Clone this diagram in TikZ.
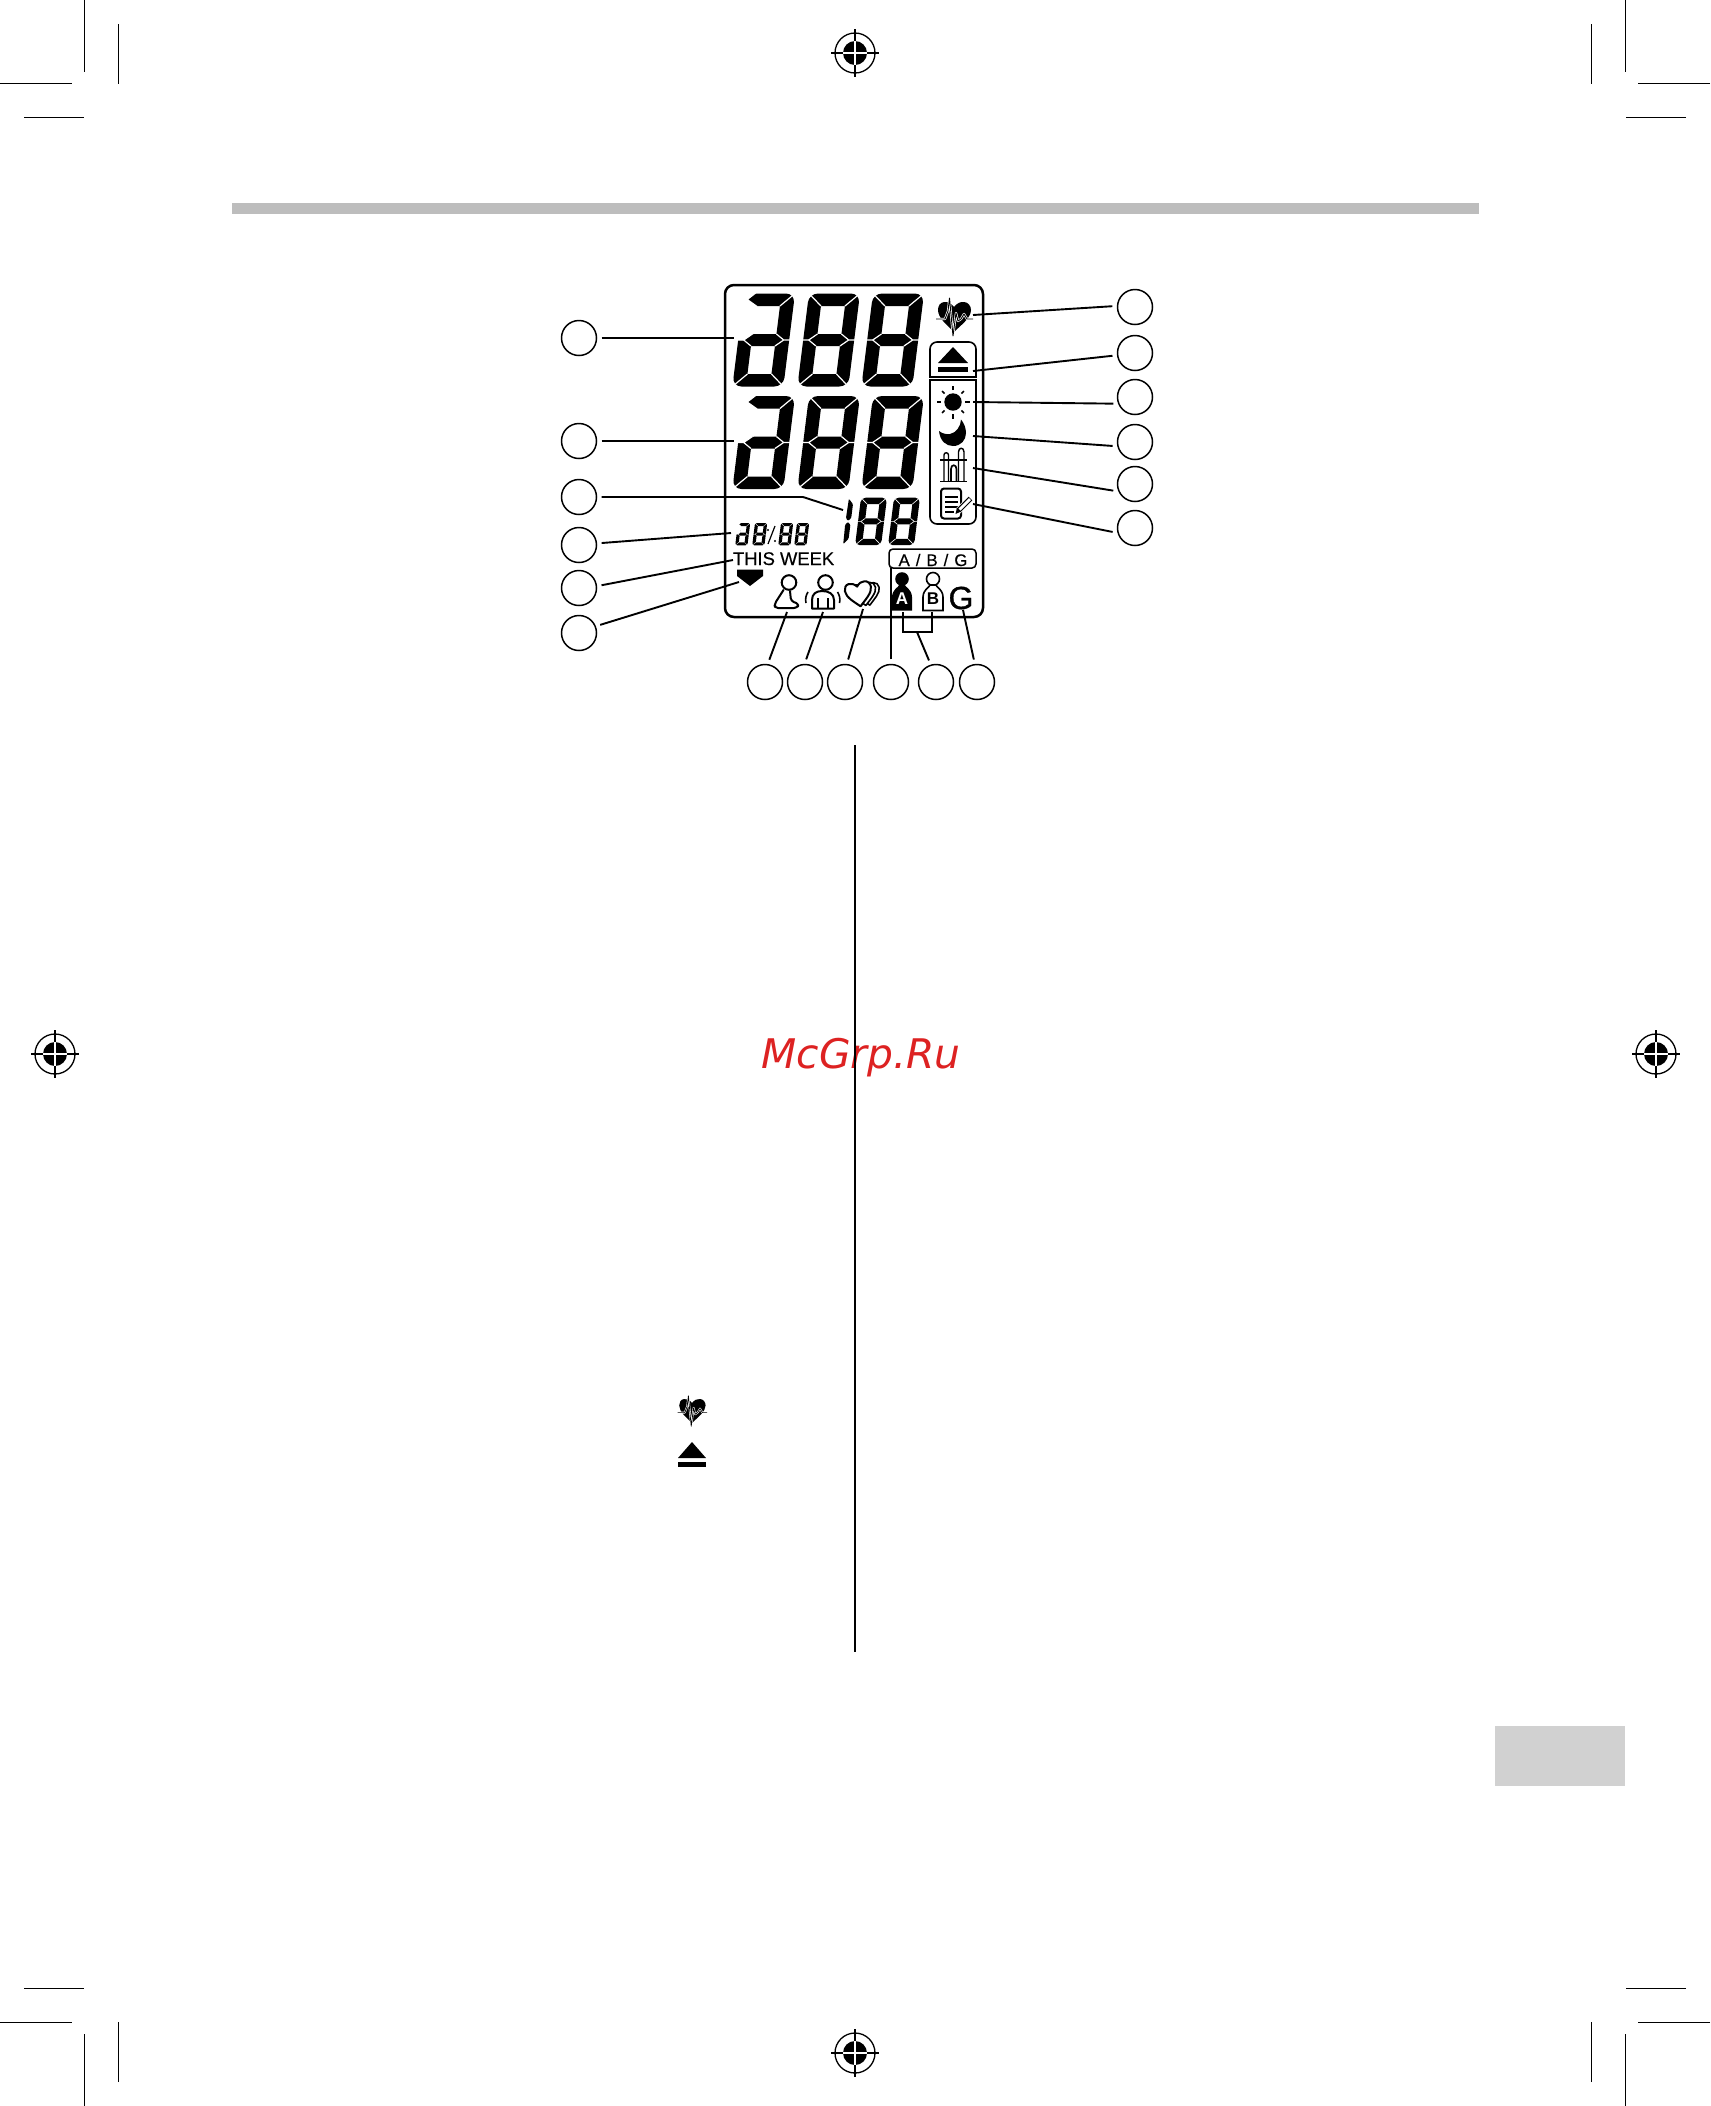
\documentclass[tikz,border=0pt]{standalone}
\usepackage{fontspec}
\setmainfont{Liberation Sans}
\newfontfamily\wmfont{DejaVu Sans}
\newfontfamily\medfont[FakeBold=0.35]{Liberation Sans}
\newfontfamily\gfont[FakeBold=1]{Liberation Sans}
\definecolor{wmred}{RGB}{221,34,34}
\tikzset{
  leader/.style={draw=black,line width=0.95pt},
  numcircle/.style={circle,draw=black,line width=0.75pt,minimum size=17.5pt,inner sep=0pt,outer sep=2.6pt,fill=white},
  crop/.style={draw=black,line width=0.55pt},
  lcd/.style={draw=black,line width=1.25pt,rounded corners=4.5pt},
  panel/.style={draw=black,line width=0.8pt,line cap=rect},
  seg/.style={fill=black,draw=none},
  ico/.style={draw=black,line width=1pt,line join=round,line cap=round},
  thinico/.style={draw=black,line width=0.7pt,line join=round},
  lab/.style={inner sep=0pt,outer sep=0pt}
}
% #1 x, #2 y, #3 scale, #4 mode: 0 all, 1 no upper-left, 2 only left pair
\newcommand{\segdigit}[4]{%
\begin{scope}[shift={(#1,#2)},x={(#3*0.5pt,0pt)},y={(-0.125*#3*0.5pt,-#3*0.5pt)}]
\ifnum#4<2\relax
  \fill[black,even odd rule] [rounded corners=#3*4.5pt] (0,0)--(51,0)--(51,93)--(0,93)--cycle
     [sharp corners] (13.5,12.5)--(37.5,12.5)--(37.5,40.5)--(13.5,40.5)--cycle
     (13.5,52.5)--(37.5,52.5)--(37.5,80.5)--(13.5,80.5)--cycle;
  \ifnum#4=1\relax
    \fill[white] (-4,-4)--(12,-4)--(12,0)--(5,6)--(15,12.5)--(15,40.5)--(13.5,40.5)--(5.5,46.5)--(-4,46.5)--cycle;
  \fi
  \draw[white,line width=#3*0.6pt]
    (51,0)--(37.5,12.5) (0,93)--(13.5,80.5) (51,93)--(37.5,80.5)
    (13.5,40.5)--(5.5,46.5)--(13.5,52.5) (37.5,40.5)--(45.5,46.5)--(37.5,52.5)
    (-1,46.5)--(5.5,46.5) (45.5,46.5)--(52,46.5);
  \ifnum#4=0\relax
    \draw[white,line width=#3*0.6pt] (0,0)--(13.5,12.5);
  \fi
\else
  \fill[seg,rounded corners=#3*1pt] (2,2)--(11.3,12.7)--(11.3,40)--(5.5,45.5)--(1,40)--cycle;
  \fill[seg,rounded corners=#3*1pt] (1,53)--(5.5,47.5)--(11.3,53)--(11.3,80.3)--(2,91)--cycle;
\fi
\end{scope}}
\newcommand{\heartoutline}{(0,-10) .. controls (-3,-14) and (-7,-15.5) .. (-10,-15) .. controls (-14,-14.5) and (-16,-11) .. (-16,-7) .. controls (-16,1) and (-7,8) .. (0,15) .. controls (7,8) and (17,1) .. (17,-7) .. controls (17,-11) and (14,-15) .. (10,-15) .. controls (7,-15.5) and (3,-14) .. (0,-10) -- cycle}
\newcommand{\heartico}[3]{%
\begin{scope}[shift={(#1,#2)},scale=#3]
  \fill[black] \heartoutline;
  \draw[white,line width=#3*1.15pt,line join=round] (-18,2)--(-9,2)--(-6,-6)--(-4.5,-19)--(-1,19)--(2,-4)--(4,4)--(7,2)--(10,-3)--(13,2)--(19,2);
  \draw[black,line width=#3*0.45pt,line join=round] (-18,2)--(-9,2)--(-6,-6)--(-4.5,-19)--(-1,19)--(2,-4)--(4,4)--(7,2)--(10,-3)--(13,2)--(19,2);
\end{scope}}
\newcommand{\regmark}[2]{%
\begin{scope}[shift={(#1,#2)}]
  \draw[black,line width=0.65pt] (0,0) circle (20);
  \fill[black] (0,0) circle (12);
  \draw[black,line width=0.65pt] (-24,0)--(-12,0) (12,0)--(24,0) (0,-24)--(0,-12) (0,12)--(0,24);
  \draw[white,line width=0.65pt] (-12,0)--(12,0) (0,-12)--(0,12);
\end{scope}}
\newcommand{\pawn}{(-3,585)--(-4,586.5) .. controls (-8,590) and (-10,593) .. (-10,597)--(-10,610.5)--(10,610.5)--(10,597) .. controls (10,593) and (8,590) .. (4,586.5)--(3,585)--cycle}
\begin{document}
\begin{tikzpicture}[x=0.5pt,y=-0.5pt]
\useasboundingbox (0,0) rectangle (1710,2106);
\fill[white] (0,0) rectangle (1710,2106);
% crop marks
\draw[crop] (84.5,0)--(84.5,72) (118.5,24)--(118.5,84) (0,83.5)--(72,83.5) (24,117.5)--(84,117.5);
\draw[crop] (1625.5,0)--(1625.5,72) (1591.5,24)--(1591.5,84) (1710,83.5)--(1638,83.5) (1686,117.5)--(1626,117.5);
\draw[crop] (84.5,2106)--(84.5,2034) (118.5,2082)--(118.5,2022) (0,2022.5)--(72,2022.5) (24,1988.5)--(84,1988.5);
\draw[crop] (1625.5,2106)--(1625.5,2034) (1591.5,2082)--(1591.5,2022) (1710,2022.5)--(1638,2022.5) (1686,1988.5)--(1626,1988.5);
\regmark{855}{53}\regmark{55}{1054}\regmark{1656}{1054}\regmark{855}{2053}
% page furniture
\fill[black!26] (232,203) rectangle (1479,214);
\fill[black!18] (1495,1726) rectangle (1625,1786);
\node[lab,text=wmred,anchor=base] (wm) at (861,1068) {\wmfont\itshape\fontsize{20.4}{20}\selectfont McGrp.Ru};
\draw[black,line width=1.2pt] (855,745)--(855,1652);
\heartico{692}{1411}{0.8}
\fill[black] (692,1442)--(706,1458)--(678,1458)--cycle;
\fill[black] (678,1462) rectangle (706,1467);
% LCD frame
\draw[lcd] (725,285) rectangle (983,617);
% digits
\segdigit{744}{293.5}{1}{1}\segdigit{809}{293.5}{1}{0}\segdigit{873}{293.5}{1}{0}
\segdigit{744}{396}{1}{1}\segdigit{809}{396}{1}{0}\segdigit{873}{396}{1}{0}
\segdigit{848}{497.7}{0.51}{2}\segdigit{861}{497.7}{0.51}{0}\segdigit{894}{497.7}{0.51}{0}
\segdigit{738}{523}{0.24}{1}\segdigit{755}{523}{0.24}{0}\segdigit{781}{523}{0.24}{0}\segdigit{797}{523}{0.24}{0}
\draw[black,line width=0.6pt] (775,526)--(768,544);
\fill[black] (768,530) circle (1.2) (775,541) circle (1.2);
\node[lab,anchor=base west,font=\fontsize{9.2}{9}\selectfont\medfont] (week) at (733,565) {THIS WEEK};
% heart and eject
\heartico{954}{317}{1}
\draw[panel,rounded corners=3.5pt] (930,377)--(930,342)--(976,342)--(976,377);
\draw[panel] (930,377)--(976,377);
\fill[black] (953,347)--(968,363)--(938,363)--cycle;
\fill[black] (938,367) rectangle (968,372);
% lower group
\draw[panel] (930,380)--(976,380);
\draw[panel,rounded corners=3.5pt] (930,380)--(930,524)--(976,524)--(976,380);
\fill[black] (953,402) circle (8.7);
\begin{scope}[shift={(953,402)}]
\foreach \a in {0,90,180,270} \draw[black,line width=0.75pt] (\a:12)--(\a:16.5);
\foreach \a in {45,135,225,315} \draw[black,line width=0.75pt] (\a:12)--(\a:15.5);
\end{scope}
\fill[black] (939,431) .. controls (940,441) and (946,446) .. (953,446) .. controls (961,446) and (966,440) .. (966,433) .. controls (966,428) and (964,423) .. (961,419.5) .. controls (961,426) and (956,433) .. (950,434) .. controls (946,434.5) and (942,433.5) .. (939,431) -- cycle;
\draw[black,line width=0.95pt] (940,460)--(967,460) (940,481.5)--(967,481.5);
\draw[thinico] (944,481)--(944,455) .. controls (944,452) and (948.5,452) .. (948.5,455)--(948.5,481);
\draw[black,line width=0.85pt] (951,481)--(951,469) .. controls (951,464) and (956.5,464) .. (956.5,469)--(956.5,481);
\draw[thinico] (958.5,481)--(958.5,452) .. controls (958.5,447) and (964,447) .. (964,452)--(964,481);
\draw[black,line width=1pt,rounded corners=1.5pt,fill=white] (941,488.5) rectangle (961,518.5);
\draw[black,line width=0.55pt] (945,497)--(958,497) (945,502)--(958,502) (945,507)--(958,507) (945,512)--(954,512);
\draw[white,line width=3.2pt] (957,512)--(971,498);
\draw[black,line width=2.6pt] (958.5,510.5)--(970.5,498.5);
\draw[white,line width=1.4pt] (959.5,509.5)--(970,499);
\fill[black] (955.5,514)--(957,507.5)--(961,511.5)--cycle;
% A/B/G
\draw[black,line width=0.75pt,rounded corners=2pt] (889,549) rectangle (976,568);
\node[lab,anchor=base,font=\fontsize{8.4}{8}\selectfont\medfont] (abg) at (933,566) {\spaceskip=3pt A / B / G};
% pointer
\fill[black] (737,569.5)--(763,569.5)--(763,576)--(750,586)--(737,576)--cycle;
% seated person
\draw[ico] (789,582.5) circle (7.3);
\draw[ico,rounded corners=1.5pt] (783.5,590)--(774.5,604)--(775,608)--(797,608)--(799,604)--(791,601)--(790,591);
% person with arms
\draw[ico] (812,608.5)--(812,600) .. controls (812,594) and (816,591) .. (822,591) .. controls (829,591) and (834,594) .. (834,600)--(834,608.5)--cycle;
\draw[black,line width=0.8pt] (818,598)--(818,608) (828,598)--(828,608);
\draw[ico,fill=white] (825.5,582.5) circle (7.3);
\draw[black,line width=0.8pt] (808,592) .. controls (806,595) and (805,599) .. (806,603) (837.5,592) .. controls (839.5,595) and (840.5,599) .. (839.5,603);
% hearts
\begin{scope}[shift={(868,594.5)},scale=0.72,rotate=10]
\draw[ico,line width=0.8pt,fill=white] \heartoutline;
\end{scope}
\begin{scope}[shift={(864,594.5)},scale=0.74,rotate=10]
\draw[ico,line width=0.8pt,fill=white] \heartoutline;
\end{scope}
\begin{scope}[shift={(858.5,594.5)},scale=0.8,rotate=10]
\draw[ico,fill=white] \heartoutline;
\end{scope}
% A and B pawns
\begin{scope}[shift={(902,0)}]
\fill[black] (0,579) circle (6.8);
\fill[black] \pawn;
\end{scope}
\node[lab,anchor=base,text=white,font=\bfseries\fontsize{8.5}{8.5}\selectfont] (pa) at (902,604) {A};
\begin{scope}[shift={(933,0)}]
\draw[panel,fill=white] (0,579) circle (6.5);
\draw[panel,fill=white] \pawn;
\end{scope}
\node[lab,anchor=base,font=\bfseries\fontsize{8.5}{8.5}\selectfont] (pb) at (933,604) {B};
\node[lab,anchor=base,font=\fontsize{16}{16}\selectfont\gfont] (gg) at (961,609) {G};
% numbered circles
\node[numcircle] (l1) at (579,338) {};
\node[numcircle] (l2) at (579,441) {};
\node[numcircle] (l3) at (579,497) {};
\node[numcircle] (l4) at (579,545) {};
\node[numcircle] (l5) at (579,588) {};
\node[numcircle] (l6) at (579,633) {};
\node[numcircle] (r1) at (1135,307) {};
\node[numcircle] (r2) at (1135,353) {};
\node[numcircle] (r3) at (1135,397) {};
\node[numcircle] (r4) at (1135,442) {};
\node[numcircle] (r5) at (1135,484) {};
\node[numcircle] (r6) at (1135,528) {};
\node[numcircle] (b1) at (765,682) {};
\node[numcircle] (b2) at (805,682) {};
\node[numcircle] (b3) at (845,682) {};
\node[numcircle] (b4) at (891,682) {};
\node[numcircle] (b5) at (936,682) {};
\node[numcircle] (b6) at (977,682) {};
% leader ends
\coordinate (tl1) at (734,338);
\coordinate (tl2) at (734,441);
\coordinate (kl3) at (803,497);
\coordinate (tl3) at (843,510);
\coordinate (tl4) at (731,533);
\coordinate (tl5) at (733,560);
\coordinate (tl6) at (739,582);
\coordinate (tr1) at (973,315);
\coordinate (tr2) at (973,371);
\coordinate (tr3) at (973,402);
\coordinate (tr4) at (973,436);
\coordinate (tr5) at (973,468);
\coordinate (tr6) at (973,504);
\coordinate (tb1) at (787,612);
\coordinate (tb2) at (823,612);
\coordinate (tb3) at (863,609);
\coordinate (tb4) at (891,568);
\coordinate (kb5) at (917,632);
\coordinate (ba) at (903,612);
\coordinate (bb) at (932,612);
\coordinate (tb6) at (963,610);
\draw[leader] (l1)--(tl1);
\draw[leader] (l2)--(tl2);
\draw[leader] (l3)--(kl3)--(tl3);
\draw[leader] (l4.5)--(tl4);
\draw[leader] (l5.7)--(tl5);
\draw[leader] (l6.21)--(tl6);
\draw[leader] (r1.178)--(tr1);
\draw[leader] (r2.187)--(tr2);
\draw[leader] (r3.197)--(tr3);
\draw[leader] (r4.190)--(tr4);
\draw[leader] (r5.197)--(tr5);
\draw[leader] (r6.190)--(tr6);
\draw[leader] (b1.79)--(tb1);
\draw[leader] (b2.87)--(tb2);
\draw[leader] (b3.82)--(tb3);
\draw[leader,line width=0.7pt] (b4)--(tb4);
\draw[leader] (b5.108)--(kb5);
\draw[leader] (ba)--(ba|-kb5)--(bb|-kb5)--(bb);
\draw[leader] (b6.98)--(tb6);
\end{tikzpicture}
\end{document}
